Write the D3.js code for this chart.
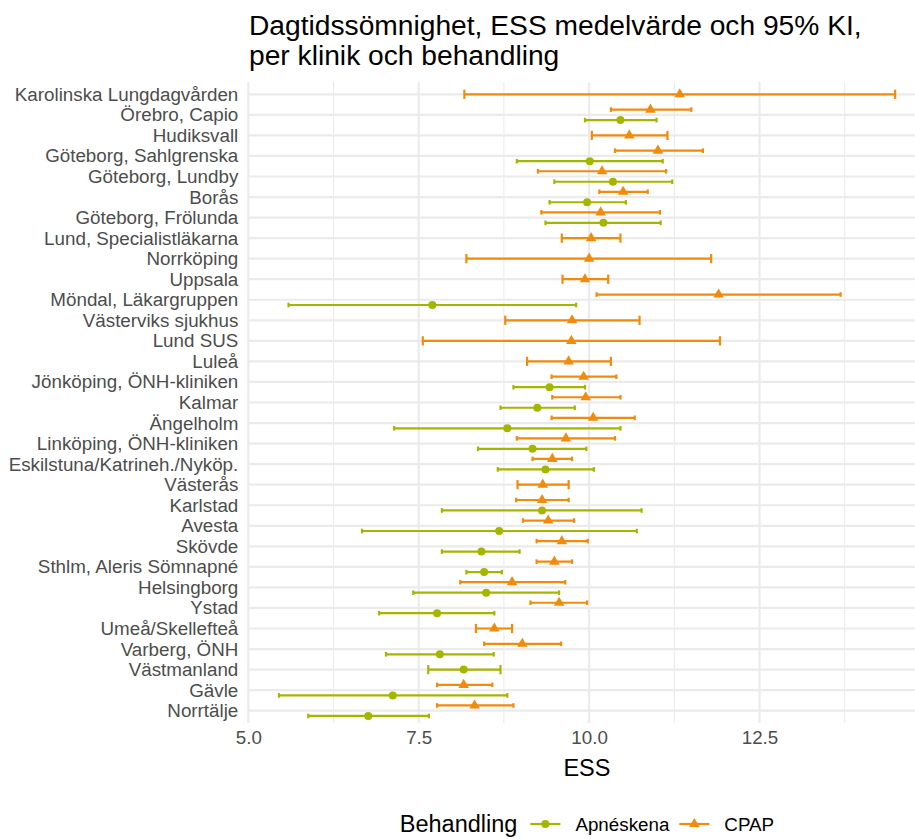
<!DOCTYPE html>
<html>
<head>
<meta charset="utf-8">
<script src="https://cdn.jsdelivr.net/npm/d3@7"></script>
<style>
  html, body { margin: 0; padding: 0; background: #ffffff; }
  svg { display: block; font-family: "Liberation Sans", Arial, sans-serif; }
</style>
</head>
<body>
<svg id="chart" width="915" height="839"></svg>
<script>
// ---------------- DATA ----------------
const clinics = [
  "Karolinska Lungdagvården", "Örebro, Capio", "Hudiksvall", "Göteborg, Sahlgrenska",
  "Göteborg, Lundby", "Borås", "Göteborg, Frölunda", "Lund, Specialistläkarna",
  "Norrköping", "Uppsala", "Möndal, Läkargruppen", "Västerviks sjukhus", "Lund SUS",
  "Luleå", "Jönköping, ÖNH-kliniken", "Kalmar", "Ängelholm", "Linköping, ÖNH-kliniken",
  "Eskilstuna/Katrineh./Nyköp.", "Västerås", "Karlstad", "Avesta", "Skövde",
  "Sthlm, Aleris Sömnapné", "Helsingborg", "Ystad", "Umeå/Skellefteå", "Varberg, ÖNH",
  "Västmanland", "Gävle", "Norrtälje"
];
// Apnéskena (null = no data)
const apMean = [null, 10.46, null, 10.01, 10.35, 9.97, 10.21, null, null, null, 7.70, null, null,
  null, 9.42, 9.24, 8.80, 9.17, 9.36, null, 9.31, 8.68, 8.42, 8.46, 8.49, 7.77, null, 7.81,
  8.16, 7.12, 6.76];
const apLo = [null, 9.94, null, 8.94, 9.49, 9.42, 9.36, null, null, null, 5.59, null, null,
  null, 8.89, 8.70, 7.14, 8.37, 8.66, null, 7.84, 6.67, 7.84, 8.20, 7.42, 6.92, null, 7.02,
  7.64, 5.45, 5.88];
const apHi = [null, 10.99, null, 11.08, 11.22, 10.54, 11.05, null, null, null, 9.81, null, null,
  null, 9.94, 9.79, 10.46, 9.96, 10.07, null, 10.77, 10.70, 8.98, 8.72, 9.56, 8.61, null, 8.60,
  8.70, 8.80, 7.65];
// CPAP
const cpMean = [11.33, 10.90, 10.59, 11.01, 10.19, 10.50, 10.17, 10.03, 10.00, 9.94, 11.90, 9.75,
  9.74, 9.70, 9.92, 9.95, 10.06, 9.66, 9.46, 9.32, 9.31, 9.40, 9.60, 9.49, 8.87, 9.56, 8.61,
  9.02, null, 8.16, 8.32];
const cpLo = [8.17, 10.32, 10.04, 10.38, 9.25, 10.15, 9.30, 9.60, 8.20, 9.61, 10.11, 8.77,
  7.56, 9.09, 9.45, 9.46, 9.45, 8.94, 9.17, 8.95, 8.93, 9.03, 9.23, 9.23, 8.11, 9.14, 8.34,
  8.46, null, 7.77, 7.77];
const cpHi = [14.49, 11.50, 11.15, 11.67, 11.13, 10.86, 11.04, 10.46, 11.79, 10.28, 13.69, 10.74,
  11.92, 10.32, 10.40, 10.46, 10.67, 10.38, 9.75, 9.70, 9.70, 9.78, 9.98, 9.75, 9.65, 9.97, 8.87,
  9.59, null, 8.58, 8.89];
const xTicks = [5.0, 7.5, 10.0, 12.5];
const xMinor = [6.25, 8.75, 11.25, 13.75];
const seriesNames = ["Apnéskena", "CPAP"];
const titleLines = ["Dagtidssömnighet, ESS medelvärde och 95% KI,", "per klinik och behandling"];

// ---------------- LAYOUT ----------------
const colors = { "Apnéskena": "#a4b600", "CPAP": "#f28a0c" };
const W = 915, H = 839;
const panel = { left: 248.3, right: 925.6, top: 82, bottom: 723 };
const svg = d3.select("#chart");
svg.append("rect").attr("width", W).attr("height", H).attr("fill", "#fff");

const x = d3.scaleLinear().domain([5.0, 14.937]).range([panel.left, panel.right]);
const y = d3.scalePoint().domain(clinics).range([94.3, 710.7]);
const step = y.step();
const dodge = step * 0.255;
const capFull = step * 0.225;

const grid = svg.append("g");
grid.selectAll("line.minor").data(xMinor).join("line")
  .attr("x1", d => x(d)).attr("x2", d => x(d))
  .attr("y1", panel.top).attr("y2", panel.bottom)
  .attr("stroke", "#ebebeb").attr("stroke-width", 1.1);
grid.selectAll("line.majorx").data(xTicks).join("line")
  .attr("x1", d => x(d)).attr("x2", d => x(d))
  .attr("y1", panel.top).attr("y2", panel.bottom)
  .attr("stroke", "#ebebeb").attr("stroke-width", 2.2);
grid.selectAll("line.majory").data(clinics).join("line")
  .attr("x1", panel.left).attr("x2", panel.right)
  .attr("y1", d => y(d)).attr("y2", d => y(d))
  .attr("stroke", "#ebebeb").attr("stroke-width", 2.2);

// build records
const recs = [];
clinics.forEach((c, i) => {
  const hasA = apMean[i] != null, hasC = cpMean[i] != null;
  const both = hasA && hasC;
  if (hasC) recs.push({ s: "CPAP", c, m: cpMean[i], lo: cpLo[i], hi: cpHi[i],
    yy: y(c) - (both ? dodge : 0), cap: both ? capFull / 2 : capFull });
  if (hasA) recs.push({ s: "Apnéskena", c, m: apMean[i], lo: apLo[i], hi: apHi[i],
    yy: y(c) + (both ? dodge : 0), cap: both ? capFull / 2 : capFull });
});

const marks = svg.append("g");
const eb = marks.selectAll("g.eb").data(recs).join("g")
  .attr("stroke", d => colors[d.s]).attr("stroke-width", 2.2).attr("fill", "none");
eb.append("line").attr("x1", d => x(d.lo)).attr("x2", d => x(d.hi))
  .attr("y1", d => d.yy).attr("y2", d => d.yy);
eb.append("line").attr("x1", d => x(d.lo)).attr("x2", d => x(d.lo))
  .attr("y1", d => d.yy - d.cap).attr("y2", d => d.yy + d.cap);
eb.append("line").attr("x1", d => x(d.hi)).attr("x2", d => x(d.hi))
  .attr("y1", d => d.yy - d.cap).attr("y2", d => d.yy + d.cap);

const circleSym = d3.symbol().type(d3.symbolCircle).size(50);
const triSym = d3.symbol().type(d3.symbolTriangle).size(48);
marks.selectAll("path.pt").data(recs).join("path")
  .attr("transform", d => `translate(${x(d.m)},${d.yy})`)
  .attr("d", d => d.s === "CPAP" ? triSym() : circleSym())
  .attr("fill", d => colors[d.s]);

// axes
const yAxis = svg.append("g").attr("transform", `translate(${panel.left},0)`)
  .call(d3.axisLeft(y).tickSize(0).tickPadding(10));
yAxis.select(".domain").remove();
yAxis.selectAll("text").attr("fill", "#4d4d4d").style("font-size", "18.8px")
  .style("font-family", "Liberation Sans, Arial, sans-serif");

const xAxis = svg.append("g").attr("transform", `translate(0,${panel.bottom})`)
  .call(d3.axisBottom(x).tickValues(xTicks).tickFormat(d3.format(".1f")).tickSize(0).tickPadding(8));
xAxis.select(".domain").remove();
xAxis.selectAll("text").attr("fill", "#4d4d4d").style("font-size", "18.8px")
  .style("font-family", "Liberation Sans, Arial, sans-serif");

svg.append("text").attr("x", (panel.left + panel.right) / 2).attr("y", 776)
  .attr("text-anchor", "middle").attr("fill", "#000").style("font-size", "23.5px").text("ESS");

// title
svg.append("g").selectAll("text").data(titleLines).join("text")
  .attr("x", 249).attr("y", (d, i) => 35 + i * 30)
  .attr("fill", "#000").style("font-size", "28.2px").text(d => d);

// legend
const leg = svg.append("g");
const ly = 824;
const lt = leg.append("text").attr("x", 0).attr("y", ly).attr("dy", "0.35em")
  .style("font-size", "23.5px").attr("fill", "#000").text("Behandling");
let cx = lt.node().getComputedTextLength() + 13;
seriesNames.forEach(s => {
  const g = leg.append("g").attr("transform", `translate(${cx},0)`);
  g.append("line").attr("x1", 0).attr("x2", 30).attr("y1", ly).attr("y2", ly)
    .attr("stroke", colors[s]).attr("stroke-width", 2.2);
  g.append("path").attr("transform", `translate(15,${ly})`)
    .attr("d", s === "CPAP" ? triSym() : circleSym()).attr("fill", colors[s]);
  const t = g.append("text").attr("x", 45).attr("y", ly).attr("dy", "0.35em")
    .style("font-size", "18.8px").attr("fill", "#000").text(s);
  cx += 45 + t.node().getComputedTextLength() + 10;
});
const lw = cx - 10;
leg.attr("transform", `translate(${(panel.left + panel.right) / 2 - lw / 2},0)`);
</script>
</body>
</html>
